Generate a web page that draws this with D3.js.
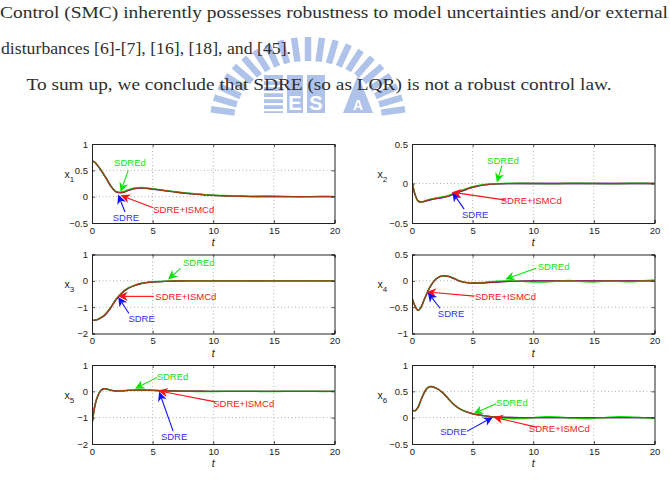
<!DOCTYPE html>
<html><head><meta charset="utf-8">
<script src="https://cdn.jsdelivr.net/npm/d3@7"></script>
<style>body{margin:0;background:#fff}</style>
</head><body><svg id="c" width="670" height="481"></svg>
<script>
// ---------------- data ----------------
const textLines = [
  "Control (SMC) inherently possesses robustness to model uncertainties and/or external",
  "disturbances [6]-[7], [16], [18], and [45].",
  "To sum up, we conclude that SDRE (so as LQR) is not a robust control law."
];
const tGrid = [0,0.25,0.5,0.75,1,1.25,1.5,2,2.5,3,3.5,4,4.5,5,6,7,8,9,10,11,12,13,14,15,16,17,18,19,20];
const xTickValues = [0,5,10,15,20];
const stateSubscripts = ["1","2","3","4","5","6"];
const yDomains = [[-0.5,1],[-0.5,0.5],[-2,1],[-1,0.5],[-2,1],[-0.5,1]];
const yTickValues = [[-0.5,0,0.5,1],[-0.5,0,0.5],[-2,-1,0,1],[-1,-0.5,0,0.5],[-2,-1,0,1],[-0.5,0,0.5,1]];
const seriesNames = ["SDRE","SDREd","SDRE+ISMCd"];

const x1_SDRE  = [0.68,0.65,0.58,0.50,0.41,0.32,0.22,0.09,0.08,0.12,0.155,0.165,0.16,0.145,0.115,0.085,0.06,0.04,0.025,0.015,0.01,0.006,0.003,0.002,0.001,0,0,0,0];
const x1_SDREd = [0.68,0.65,0.58,0.50,0.41,0.32,0.22,0.095,0.09,0.13,0.165,0.172,0.166,0.15,0.118,0.088,0.065,0.045,0.028,0.02,0.008,0.0,0.008,0.012,0.004,-0.004,0.0,0.006,0.002];
const x1_ISMCd = [0.68,0.65,0.58,0.50,0.41,0.32,0.22,0.09,0.078,0.118,0.153,0.163,0.158,0.143,0.113,0.083,0.058,0.039,0.024,0.014,0.009,0.005,0.003,0.001,0,0,0,0,0];

const x2_SDRE  = [0.03,-0.14,-0.22,-0.235,-0.228,-0.215,-0.205,-0.19,-0.178,-0.16,-0.13,-0.1,-0.073,-0.048,-0.018,-0.005,-0.001,0,0,0,0,0,0,0,0,0,0,0,0];
const x2_SDREd = [0.03,-0.14,-0.22,-0.235,-0.226,-0.21,-0.198,-0.182,-0.17,-0.152,-0.122,-0.092,-0.066,-0.042,-0.013,-0.002,0.002,0.003,0,-0.003,-0.002,0.002,0.003,0,-0.003,-0.002,0.002,0.003,0];
const x2_ISMCd = [0.03,-0.14,-0.22,-0.235,-0.228,-0.215,-0.205,-0.19,-0.178,-0.16,-0.13,-0.1,-0.073,-0.048,-0.018,-0.005,-0.001,0,0,0,0,0,0,0,0,0,0,0,0];

const x3_SDRE  = [-1.5,-1.49,-1.46,-1.4,-1.32,-1.2,-1.05,-0.7,-0.45,-0.28,-0.18,-0.11,-0.07,-0.045,-0.02,-0.008,-0.003,-0.001,0,0,0,0,0,0,0,0,0,0,0];
const x3_SDREd = [-1.5,-1.49,-1.46,-1.4,-1.31,-1.19,-1.04,-0.69,-0.44,-0.27,-0.17,-0.1,-0.062,-0.038,-0.014,-0.004,0,0.002,0.003,0.002,0,-0.002,-0.002,0,0.002,0.002,0,-0.002,0];
const x3_ISMCd = [-1.5,-1.49,-1.46,-1.4,-1.32,-1.2,-1.05,-0.7,-0.45,-0.28,-0.18,-0.11,-0.07,-0.045,-0.02,-0.008,-0.003,-0.001,0,0,0,0,0,0,0,0,0,0,0];

const x4_SDRE  = [-0.32,-0.48,-0.56,-0.5,-0.36,-0.23,-0.11,0.04,0.095,0.085,0.04,-0.01,-0.035,-0.042,-0.036,-0.022,-0.011,-0.005,-0.002,0,0,0,0,0,0,0,0,0,0];
const x4_SDREd = [-0.32,-0.48,-0.56,-0.5,-0.36,-0.23,-0.11,0.04,0.095,0.087,0.043,-0.006,-0.03,-0.037,-0.03,-0.01,0,-0.01,-0.02,-0.022,-0.005,0.005,-0.015,-0.02,-0.005,-0.008,-0.018,0,0.015];
const x4_ISMCd = [-0.32,-0.48,-0.56,-0.5,-0.36,-0.23,-0.11,0.04,0.095,0.085,0.04,-0.01,-0.035,-0.042,-0.036,-0.022,-0.011,-0.005,-0.002,0,0,0,0,0,0,0,0,0,0];

const x5_SDRE  = [-1.27,-0.52,-0.15,0.04,0.1,0.085,0.045,0.012,0.02,0.035,0.045,0.05,0.045,0.035,0.02,0.01,0.004,0.001,0,0,0,0,0,0,0,0,0,0,0];
const x5_SDREd = [-1.27,-0.52,-0.15,0.04,0.1,0.085,0.045,0.015,0.025,0.04,0.05,0.055,0.05,0.04,0.024,0.012,0.004,-0.004,-0.006,0,0.005,0.004,-0.003,-0.005,0,0.004,0.003,-0.003,0];
const x5_ISMCd = [-1.27,-0.52,-0.15,0.04,0.1,0.085,0.045,0.012,0.02,0.035,0.045,0.05,0.045,0.035,0.02,0.01,0.004,0.001,0,0,0,0,0,0,0,0,0,0,0];

const x6_SDRE  = [0.15,0.13,0.2,0.34,0.47,0.56,0.59,0.56,0.48,0.36,0.24,0.16,0.11,0.075,0.035,0.012,0.004,0.001,0,0,0,0,0,0,0,0,0,0,0];
const x6_SDREd = [0.15,0.13,0.2,0.34,0.47,0.56,0.59,0.56,0.48,0.36,0.24,0.16,0.11,0.075,0.035,0.005,-0.018,-0.016,0,0.018,0.014,-0.004,-0.018,-0.014,0.004,0.018,0.015,0,-0.01];
const x6_ISMCd = [0.15,0.13,0.2,0.34,0.47,0.56,0.59,0.56,0.48,0.36,0.24,0.16,0.11,0.075,0.035,0.012,0.004,0.001,0,0,0,0,0,0,0,0,0,0,0];

const panelSeries = [
  [x1_SDRE,x1_SDREd,x1_ISMCd],[x2_SDRE,x2_SDREd,x2_ISMCd],[x3_SDRE,x3_SDREd,x3_ISMCd],
  [x4_SDRE,x4_SDREd,x4_ISMCd],[x5_SDRE,x5_SDREd,x5_ISMCd],[x6_SDRE,x6_SDREd,x6_ISMCd]
];

// annotations in data coordinates: [panel, seriesIndex, textT, textV, tailT, tailV, tipT, tipV]
const annotations = [
  [0,1, 3.13,0.65, 2.99,0.50, 2.36,0.09],
  [0,0, 2.80,-0.40, 2.72,-0.29, 2.16,0.04],
  [0,2, 7.57,-0.24, 5.05,-0.21, 2.36,0.025],
  [1,1, 7.50,0.29, 7.41,0.225, 7.0,0.013],
  [1,0, 5.21,-0.39, 4.30,-0.325, 3.33,-0.11],
  [1,2, 9.83,-0.22, 7.74,-0.21, 3.28,-0.11],
  [2,1, 8.81,0.70, 7.30,0.47, 6.28,0.05],
  [2,2, 7.74,-0.59, 5.10,-0.59, 2.16,-0.59],
  [2,0, 4.09,-1.43, 3.05,-1.24, 2.16,-0.61],
  [3,1, 11.68,0.28, 10.25,0.24, 7.69,0.03],
  [3,2, 7.71,-0.30, 5.15,-0.29, 1.21,-0.21],
  [3,0, 3.22,-0.62, 2.31,-0.52, 1.30,-0.22],
  [4,1, 6.64,0.57, 5.37,0.53, 3.54,0.10],
  [4,2, 12.51,-0.46, 10.18,-0.40, 5.46,0.02],
  [4,0, 6.77,-1.70, 6.69,-1.51, 5.54,-0.015],
  [5,1, 8.24,0.285, 6.94,0.266, 5.07,0.075],
  [5,0, 3.41,-0.26, 4.52,-0.26, 6.67,0.01],
  [5,2, 12.15,-0.21, 10.25,-0.18, 6.72,0.01]
];

// ---------------- styles / layout ----------------
const colors = ["#1010ff","#10e010","#ff1010"];
const textColors = ["#3030f0","#20e020","#f02020"];
const colLeft = [92, 412];
const plotW = 242.5;
const rowTop = [144, 254.5, 365];
const plotH = 79;
const sans = "'Liberation Sans', Arial, Helvetica, sans-serif";
const serif = "'Liberation Serif','DejaVu Serif',serif";

const svg = d3.select("#c");

// ---------------- watermark ----------------
const wm = svg.append("g").attr("opacity",0.7);
const wmC = [308,121];
const nBars = 21;
d3.range(nBars).forEach(k => {
  const a = (172 - k*164/(nBars-1)) * Math.PI/180;
  const c = Math.cos(a), s = Math.sin(a);
  wm.append("line")
    .attr("x1", wmC[0] + 74*c).attr("y1", wmC[1] - 60*s)
    .attr("x2", wmC[0] + 98*c).attr("y2", wmC[1] - 84*s)
    .attr("stroke","#8eabe2").attr("stroke-width",6.5);
});
wm.append("rect").attr("x",264).attr("y",75).attr("width",19).attr("height",38).attr("fill","#8eabe2");
d3.range(6).forEach(k => wm.append("rect").attr("x",264).attr("y",79+k*6).attr("width",19).attr("height",2.2).attr("fill","#fff"));
wm.append("rect").attr("x",287).attr("y",75).attr("width",16).attr("height",38).attr("fill","#8eabe2");
wm.append("rect").attr("x",307).attr("y",75).attr("width",18).attr("height",38).attr("fill","#8eabe2");
wm.append("path").attr("d","M343,113 L358,75 L373,113 Z").attr("fill","#8eabe2");
wm.append("text").attr("x",295).attr("y",110).attr("text-anchor","middle").attr("font-family",sans).attr("font-weight","bold").attr("font-size",20).attr("fill","#fff").text("E");
wm.append("text").attr("x",316).attr("y",110).attr("text-anchor","middle").attr("font-family",sans).attr("font-weight","bold").attr("font-size",20).attr("fill","#fff").text("S");
wm.append("text").attr("x",358).attr("y",110).attr("text-anchor","middle").attr("font-family",sans).attr("font-weight","bold").attr("font-size",14).attr("fill","#fff").text("A");

// ---------------- body text ----------------
const textPos = [[0,17.5,668],[1,54,290],[26.5,89.5,585]];
textLines.forEach((s,i) => {
  svg.append("text").attr("x",textPos[i][0]).attr("y",textPos[i][1])
    .attr("font-family",serif).attr("font-size",17.5).attr("fill","#2e2e2e")
    .attr("textLength",textPos[i][2]).attr("lengthAdjust","spacingAndGlyphs")
    .text(s);
});

// ---------------- panels ----------------
const fmt = d => d < 0 ? "\u2212" + Math.abs(d) : String(d);

panelSeries.forEach((series, i) => {
  const col = i % 2, row = Math.floor(i / 2);
  const left = colLeft[col], top = rowTop[row];
  const x = d3.scaleLinear().domain([0,20]).range([left, left + plotW]);
  const y = d3.scaleLinear().domain(yDomains[i]).range([top + plotH, top]);
  const g = svg.append("g");

  xTickValues.forEach(t => {
    if (t === 0 || t === 20) return;
    g.append("line").attr("x1",x(t)).attr("x2",x(t)).attr("y1",top).attr("y2",top+plotH)
      .attr("stroke","#9a9a9a").attr("stroke-width",0.8).attr("stroke-dasharray","1,2.5");
  });
  yTickValues[i].forEach(v => {
    if (v === yDomains[i][0] || v === yDomains[i][1]) return;
    g.append("line").attr("x1",left).attr("x2",left+plotW).attr("y1",y(v)).attr("y2",y(v))
      .attr("stroke","#9a9a9a").attr("stroke-width",0.8).attr("stroke-dasharray","1,2.5");
  });

  const cid = "clip" + i;
  svg.append("clipPath").attr("id",cid).append("rect")
    .attr("x",left).attr("y",top).attr("width",plotW).attr("height",plotH);

  const line = d3.line().x((d,k) => x(tGrid[k])).y(d => y(d)).curve(d3.curveCatmullRom.alpha(0.5));
  const lg = g.append("g").attr("clip-path", `url(#${cid})`);
  lg.append("path").attr("d", line(series[0])).attr("fill","none").attr("stroke",colors[0]).attr("stroke-width",1.4);
  lg.append("path").attr("d", line(series[1])).attr("fill","none").attr("stroke",colors[1]).attr("stroke-width",1.5);
  lg.append("path").attr("d", line(series[2])).attr("fill","none").attr("stroke","#c01a10").attr("stroke-width",1.4).attr("stroke-opacity",0.82);

  const axB = d3.axisBottom(x).tickValues(xTickValues).tickSize(-3).tickPadding(4).tickFormat(fmt);
  const axT = d3.axisTop(x).tickValues(xTickValues).tickSize(-3).tickFormat("");
  const axL = d3.axisLeft(y).tickValues(yTickValues[i]).tickSize(-3).tickPadding(4).tickFormat(fmt);
  const axR = d3.axisRight(y).tickValues(yTickValues[i]).tickSize(-3).tickFormat("");
  [[axB,`translate(0,${top+plotH})`],[axT,`translate(0,${top})`],[axL,`translate(${left},0)`],[axR,`translate(${left+plotW},0)`]].forEach(([ax,tr]) => {
    const a = g.append("g").attr("transform",tr).call(ax);
    a.select(".domain").attr("stroke","#222").attr("stroke-width",1);
    a.selectAll(".tick line").attr("stroke","#222").attr("stroke-width",0.8);
    a.selectAll("text").attr("font-family",sans).attr("font-size",9.5).attr("fill","#222");
  });

  g.append("text").attr("x", x(10)).attr("y", top + plotH + 23)
    .attr("text-anchor","middle").attr("font-family",sans).attr("font-style","italic")
    .attr("font-size",10.5).attr("fill","#222").text("t");
  const yl = g.append("text").attr("x", col === 0 ? 64.5 : 377.5).attr("y", top + plotH/2 - 6)
    .attr("font-family",sans).attr("font-size",10.5).attr("fill","#222");
  yl.append("tspan").text("x");
  yl.append("tspan").attr("dy",4).attr("font-size",8).text(stateSubscripts[i]);
});

// ---------------- annotations ----------------
annotations.forEach(([p, s, tt, tv, at, av, ht, hv]) => {
  const col = p % 2, row = Math.floor(p / 2);
  const left = colLeft[col], top = rowTop[row];
  const x = d3.scaleLinear().domain([0,20]).range([left, left + plotW]);
  const y = d3.scaleLinear().domain(yDomains[p]).range([top + plotH, top]);
  const x0 = x(at), y0 = y(av), x1 = x(ht), y1 = y(hv);
  const dx = x1 - x0, dy = y1 - y0, L = Math.hypot(dx, dy);
  const ux = dx / L, uy = dy / L, px = -uy, py = ux;
  const len = 9.5, hw = 4.6;
  const bx = x1 - ux*len, by = y1 - uy*len;
  const nx = x1 - ux*len*0.7, ny = y1 - uy*len*0.7;
  svg.append("line").attr("x1",x0).attr("y1",y0).attr("x2",nx).attr("y2",ny)
    .attr("stroke",colors[s]).attr("stroke-width",1.1);
  svg.append("path")
    .attr("d",`M${x1},${y1}L${bx+px*hw},${by+py*hw}L${nx},${ny}L${bx-px*hw},${by-py*hw}Z`)
    .attr("fill",colors[s]);
  svg.append("text").attr("x",x(tt)).attr("y",y(tv)).attr("dy","0.36em")
    .attr("text-anchor","middle").attr("font-family",sans).attr("font-size",9.5)
    .attr("fill",textColors[s]).text(seriesNames[s]);
});
</script>
</body></html>
